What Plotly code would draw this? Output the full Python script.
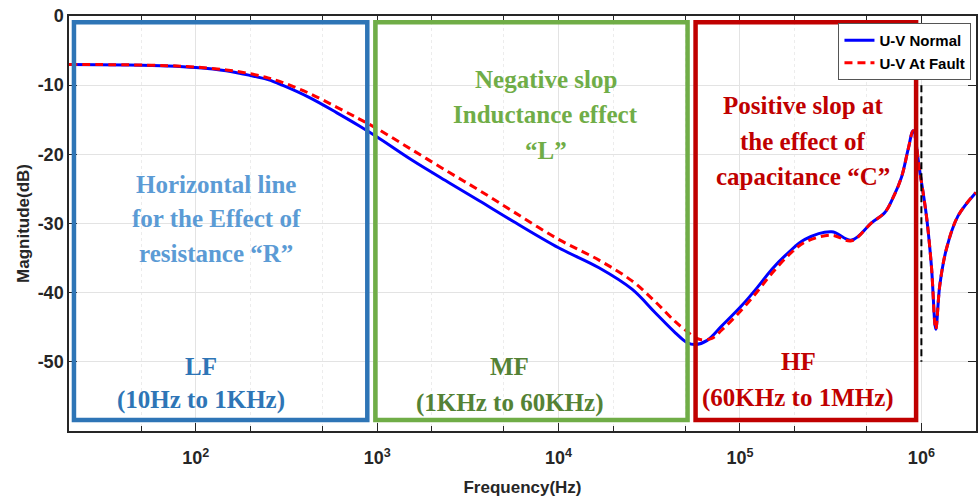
import numpy as np
import plotly.graph_objects as go

# ---------------- data ----------------
freq_normal = [20, 41.5, 70, 100, 147, 200, 250, 300, 424, 600, 798, 1000, 1568, 2490, 3650, 5800, 10000,
               16700, 25400, 34100, 44000, 51000, 56700, 66000, 79400, 102000, 125000,
               150000, 185000, 228000, 320000, 412000, 531000, 629000, 700000,
               777000, 845000, 900000, 980000, 1066000, 1136000, 1200000,
               1262000, 1373000, 1592000, 2000000]
mag_normal = [-7.0, -7.08, -7.22, -7.45, -7.92, -8.6, -9.2, -10.0, -11.8, -14.0, -15.9, -17.5,
              -20.9, -24.1, -26.7, -29.9, -33.5, -36.4, -39.5, -42.9, -45.8, -47.2, -47.5,
              -46.9, -44.8, -41.9, -39.2,
              -36.6, -34.2, -32.3, -31.2, -32.4, -29.9, -28.4, -26.2,
              -23.3, -19.3, -16.6, -22.5, -28.9, -36.2, -45.3,
              -39.0, -33.7, -28.9, -25.5]

freq_fault = [20, 41.5, 70, 100, 147, 200, 250, 300, 424, 600, 798, 1000, 1568, 2490, 3650, 5800, 10000,
              16700, 25400, 34100, 44000, 51000, 56700, 61000, 70000, 79400, 102000, 125000,
              150000, 185000, 228000, 320000, 412000, 531000, 629000, 700000,
              777000, 845000, 900000, 980000, 1066000, 1136000, 1200000,
              1262000, 1373000, 1592000, 2000000]
mag_fault = [-7.0, -7.06, -7.18, -7.38, -7.8, -8.35, -8.95, -9.6, -11.2, -13.2, -14.9, -16.3,
             -19.4, -22.6, -25.2, -28.5, -32.3, -35.3, -38.3, -41.3, -44.2, -45.6, -46.5,
             -46.8, -46.6, -45.4, -42.5, -39.8,
             -37.2, -34.6, -32.7, -31.7, -32.5, -29.9, -28.4, -26.2,
             -23.3, -19.3, -16.6, -22.5, -28.9, -36.2, -45.3,
             -39.0, -33.7, -28.9, -25.5]

series_names = ["U-V Normal", "U-V At Fault"]

x_tick_vals = [1e2, 1e3, 1e4, 1e5, 1e6]
x_tick_text = ["10<sup>2</sup>", "10<sup>3</sup>", "10<sup>4</sup>", "10<sup>5</sup>", "10<sup>6</sup>"]
y_tick_vals = [0, -10, -20, -30, -40, -50]
y_tick_text = ["0", "-10", "-20", "-30", "-40", "-50"]

# frequency bands (Hz) and their labels
band_lf = (21.3, 882)
band_mf = (977, 51400)
band_hf = (56900, 935000)
band_y = (-0.9, -58.4)
marker_freq = 1e6
marker_db = (-10, -50)

lf_desc = ["Horizontal line", "for the Effect of", "resistance \u201cR\u201d"]
lf_band = ["LF", "(10Hz to 1KHz)"]
mf_desc = ["Negative slop", "Inductance effect", "\u201cL\u201d"]
mf_band = ["MF", "(1KHz to 60KHz)"]
hf_desc = ["Positive slop at", "the effect of", "capacitance \u201cC\u201d"]
hf_band = ["HF", "(60KHz to 1MHz)"]

# ---------------- figure ----------------
fig = go.Figure()
fig.add_trace(go.Scatter(x=freq_normal, y=mag_normal, name=series_names[0], mode="lines",
                         line=dict(color="#0000FF", width=3, shape="spline", smoothing=1.0)))
fig.add_trace(go.Scatter(x=freq_fault, y=mag_fault, name=series_names[1], mode="lines",
                         line=dict(color="#FF0000", width=3, dash="8px,5px", shape="spline", smoothing=1.0)))

box_styles = [(band_lf, "#2E75B6"), (band_mf, "#70AD47"), (band_hf, "#C00000")]
for (x0, x1), col in box_styles:
    fig.add_shape(type="rect", xref="x", yref="y", x0=x0, x1=x1, y0=band_y[1], y1=band_y[0],
                  line=dict(color=col, width=4.5), layer="above")
fig.add_shape(type="line", xref="x", yref="y", x0=marker_freq, x1=marker_freq,
              y0=marker_db[0], y1=marker_db[1], line=dict(color="black", width=2, dash="7px,4px"),
              layer="above")

serif = "Liberation Serif"
def add_lines(lines, xlog, ys, color, size=25):
    for t, yy in zip(lines, ys):
        fig.add_annotation(x=xlog, y=yy, xref="x", yref="y", text=t, showarrow=False,
                           font=dict(family=serif, size=size, color=color, weight="bold"),
                           xanchor="center", yanchor="middle")

add_lines(lf_desc, 2.113, [-24.4, -29.3, -34.3], "#5B9BD5")
add_lines(lf_band, 2.031, [-50.7, -55.5], "#2E75B6")
add_lines(mf_desc, 3.930, [-9.25, -14.3, -19.4], "#70AD47")
add_lines(mf_band, 3.727, [-50.7, -56.0], "#548235")
add_lines(hf_desc, 5.349, [-12.9, -18.2, -23.2], "#C00000")
add_lines(hf_band, 5.322, [-50.0, -55.2], "#C00000")

axis_font = dict(family="Liberation Sans", size=18, color="#262626", weight="bold")
title_font = dict(family="Liberation Sans", size=17, color="#262626", weight="bold")
fig.update_xaxes(type="log", range=[np.log10(20), np.log10(2e6)],
                 tickvals=x_tick_vals, ticktext=x_tick_text,
                 tickfont=axis_font, ticks="inside", ticklen=8, tickcolor="#262626",
                 ticklabelstandoff=10,
                 showline=True, linecolor="#262626", linewidth=1.5, mirror="ticks",
                 showgrid=True, gridcolor="#e3e3e3", gridwidth=1, zeroline=False,
                 minor=dict(ticks="inside", ticklen=5, tickcolor="#262626", showgrid=True,
                            gridcolor="#ececec", griddash="dot", gridwidth=1),
                 title=dict(text="Frequency(Hz)", font=title_font, standoff=14))
fig.update_yaxes(range=[-60, 0], tickvals=y_tick_vals, ticktext=y_tick_text,
                 tickfont=axis_font, ticks="inside", ticklen=8, tickcolor="#262626",
                 showline=True, linecolor="#262626", linewidth=1.5, mirror="ticks",
                 showgrid=True, gridcolor="#e3e3e3", gridwidth=1, zeroline=False,
                 title=dict(text="Magnitude(dB)", font=title_font, standoff=4))

fig.update_layout(width=978, height=499, margin=dict(l=69, r=0, t=16, b=68),
                  paper_bgcolor="white", plot_bgcolor="white",
                  legend=dict(x=0.995, xanchor="right", y=0.983, yanchor="top",
                              bgcolor="white", bordercolor="#555555", borderwidth=1,
                              font=dict(family="Liberation Sans", size=15, color="black", weight="bold"),
                              tracegroupgap=0, itemwidth=30))

fig.write_html("out.html")
